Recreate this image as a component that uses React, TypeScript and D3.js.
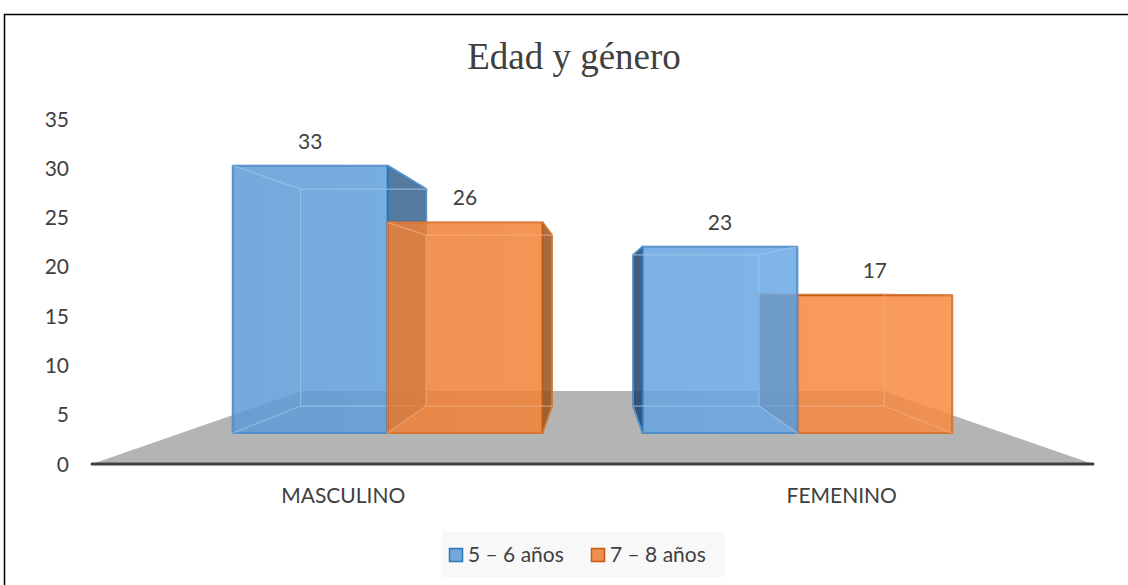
import React from 'react';
import * as d3 from 'd3';

// chart data
const categories = ['MASCULINO', 'FEMENINO'];
const seriesNames = ['5 – 6 años', '7 – 8 años'];
const edad56 = [33, 23];
const edad78 = [26, 17];
const yTicks = [0, 5, 10, 15, 20, 25, 30, 35];

const seriesValues = [edad56, edad78];
const baseColors = ['#5b9bd5', '#ed7d31'];
const lightColors = ['#6cabe8', '#f88a40'];
const edgeColors = ['#2e75b6', '#c55a11'];
const innerEdge = ['#9dc6ec', '#f7ae7c'];
const rightSide = ['#36638f', '#99501d'];
const leftSide = ['#1f4268', '#7a3c12'];

const W = 1128;
const H = 585;
const FONT = 'Lato, "Open Sans", sans-serif';

// front plane of the floor and the vanishing point of the 3D view
const floorLeft = 92;
const floorRight = 1093;
const vp = { x: (floorLeft + floorRight) / 2, y: 290 };
const depthFront = 0.822;
const depthBack = 0.667;
const depthFloor = 0.58;

type Pt = [number, number];
const proj = (X: number, Y: number, f: number): Pt => [vp.x + (X - vp.x) * f, vp.y + (Y - vp.y) * f];
const pts = (p: Pt[]) => p.map(d => d.join(',')).join(' ');

const x0 = d3.scaleBand<string>()
  .domain(categories)
  .range([floorLeft, floorRight])
  .paddingInner(0.244)
  .paddingOuter(0.126);

const x1 = d3.scaleBand<string>()
  .domain(seriesNames)
  .range([0, x0.bandwidth()]);

const y = d3.scaleLinear().domain([0, 35]).range([464, 119]);

const Bar = ({ cat, si }: { cat: string; si: number }) => {
  const ci = categories.indexOf(cat);
  const v = seriesValues[si][ci];
  const X0 = (x0(cat) as number) + (x1(seriesNames[si]) as number);
  const X1 = X0 + x1.bandwidth();
  const Yt = y(v);
  const Yb = y(0);

  const ftl = proj(X0, Yt, depthFront), ftr = proj(X1, Yt, depthFront);
  const fbl = proj(X0, Yb, depthFront), fbr = proj(X1, Yb, depthFront);
  const btl = proj(X0, Yt, depthBack), btr = proj(X1, Yt, depthBack);
  const bbl = proj(X0, Yb, depthBack), bbr = proj(X1, Yb, depthBack);

  const leftVisible = X0 > vp.x;
  const rightVisible = X1 < vp.x;
  const topVisible = Yt > vp.y;

  const hidden: Pt[][] = [[btl, btr, bbr, bbl], [fbl, fbr, bbr, bbl]];
  if (!leftVisible) hidden.push([ftl, btl, bbl, fbl]);
  if (!rightVisible) hidden.push([ftr, btr, bbr, fbr]);
  if (!topVisible) hidden.push([ftl, ftr, btr, btl]);

  return (
    <g>
      {leftVisible && (
        <polygon points={pts([ftl, btl, bbl, fbl])} fill={leftSide[si]} fillOpacity={0.85}
          stroke={edgeColors[si]} strokeWidth={1.8} strokeLinejoin="round" />
      )}
      {rightVisible && (
        <polygon points={pts([ftr, btr, bbr, fbr])} fill={rightSide[si]} fillOpacity={0.85}
          stroke={edgeColors[si]} strokeWidth={1.8} strokeLinejoin="round" />
      )}
      {topVisible && (
        <polygon points={pts([ftl, ftr, btr, btl])} fill={baseColors[si]} fillOpacity={0.85}
          stroke={edgeColors[si]} strokeWidth={1} />
      )}
      <polygon points={pts([ftl, ftr, fbr, fbl])} fill={`url(#grad${si})`} fillOpacity={0.85}
        stroke={edgeColors[si]} strokeWidth={1.8} strokeLinejoin="round" />
      {hidden.map((h, i) => (
        <polygon key={i} points={pts(h)} fill="none" stroke={innerEdge[si]} strokeOpacity={0.45} strokeWidth={1.2} />
      ))}
      <text x={(ftl[0] + ftr[0]) / 2} y={ftl[1] - 17} textAnchor="middle" fontSize={21}
        fill="#404040" fontFamily={FONT}>{v}</text>
    </g>
  );
};

export default function App() {
  // draw bars farthest from the vanishing point first
  const bars: { cat: string; si: number; dist: number }[] = [];
  categories.forEach(cat => {
    seriesNames.forEach((s, si) => {
      const X0 = (x0(cat) as number) + (x1(s) as number);
      const cx = X0 + x1.bandwidth() / 2;
      bars.push({ cat, si, dist: Math.abs(cx - vp.x) });
    });
  });
  bars.sort((a, b) => b.dist - a.dist);

  const floor: Pt[] = [
    [floorLeft, y(0)],
    [floorRight, y(0)],
    proj(floorRight, y(0), depthFloor),
    proj(floorLeft, y(0), depthFloor),
  ];

  return (
    <svg width={W} height={H} style={{ position: 'absolute', left: 0, top: 0, background: '#fff' }}>
      <defs>
        {baseColors.map((c, i) => (
          <linearGradient key={i} id={`grad${i}`} gradientUnits="userSpaceOnUse" x1={233} x2={954} y1={0} y2={0}>
            <stop offset="0" stopColor={c} />
            <stop offset="1" stopColor={lightColors[i]} />
          </linearGradient>
        ))}
      </defs>
      <rect x={4.5} y={14.5} width={1160} height={620} fill="#fff" stroke="#000" strokeWidth={1.5} />

      <text x={574} y={69} textAnchor="middle" fontSize={37} fill="#404040"
        fontFamily='"Liberation Serif", "Times New Roman", serif'>Edad y género</text>

      {yTicks.map(t => (
        <text key={t} x={69} y={y(t) + 7.5} textAnchor="end" fontSize={21} fill="#404040" fontFamily={FONT}>{t}</text>
      ))}

      <polygon points={pts(floor)} fill="#b4b4b4" />

      {bars.map(b => <Bar key={b.cat + b.si} cat={b.cat} si={b.si} />)}

      <line x1={floorLeft} x2={floorRight} y1={y(0)} y2={y(0)} stroke="#404040" strokeWidth={3} strokeLinecap="round" />

      {categories.map(c => (
        <text key={c} x={(x0(c) as number) + x0.bandwidth() / 2} y={503} textAnchor="middle" fontSize={21}
          fill="#404040" fontFamily={FONT}>{c}</text>
      ))}

      <rect x={442} y={532} width={283} height={45} fill="#f8f8f8" />
      {seriesNames.map((s, i) => (
        <g key={s} transform={`translate(${449 + i * 142},548)`}>
          <rect x={0.5} y={0.5} width={13} height={13} fill={baseColors[i]} fillOpacity={0.85}
            stroke={edgeColors[i]} strokeWidth={1.5} />
          <text x={19} y={14} fontSize={21} fill="#404040" fontFamily={FONT}>{s}</text>
        </g>
      ))}
    </svg>
  );
}
